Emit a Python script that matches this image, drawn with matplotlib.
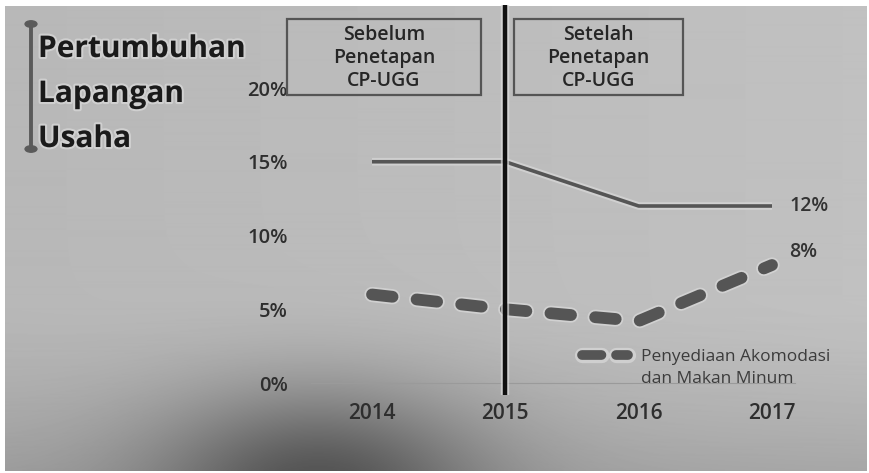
import numpy as np
import matplotlib
matplotlib.use('Agg')
import matplotlib.pyplot as plt
from matplotlib.patches import Rectangle, Circle
from matplotlib.lines import Line2D
import matplotlib.patheffects as pe

# ---- data ----
years = [2014, 2015, 2016, 2017]
total_growth = [15.0, 15.0, 12.0, 12.0]
akomodasi = [6.0, 5.0, 4.2, 8.0]
yticks = [0, 5, 10, 15, 20]
ytick_labels = ['0%', '5%', '10%', '15%', '20%']
end_labels = ['12%', '8%']
title_lines = ['Pertumbuhan', 'Lapangan', 'Usaha']
box_left = 'Sebelum\nPenetapan\nCP-UGG'
box_right = 'Setelah\nPenetapan\nCP-UGG'
legend_label = 'Penyediaan Akomodasi\ndan Makan Minum'

W, H = 870, 473
fig = plt.figure(figsize=(W / 100, H / 100), dpi=100, facecolor='white')

def fx(px):
    return px / W

def fy(py):
    return 1 - py / H

# ---- photographed-slide background ----
bx0, bx1, by0, by1 = 5, 867, 6, 471
bg_ax = fig.add_axes([fx(bx0), fy(by1), fx(bx1) - fx(bx0), fy(by0) - fy(by1)])
gh, gw = by1 - by0, bx1 - bx0
yy, xx = np.mgrid[0:gh, 0:gw]
xx = xx + bx0
yy = yy + by0
img = 0.72 + 0.035 * xx / W
img -= 0.10 * np.clip((yy - 300) / 170, 0, 1) ** 1.5
img -= 0.30 * np.exp(-((xx - 320) / 165) ** 2 - ((yy - 480) / 95) ** 2)
bg_ax.imshow(img, cmap='gray', vmin=0, vmax=1, aspect='auto',
             extent=[0, 1, 0, 1], origin='upper', interpolation='bilinear')
bg_ax.axis('off')

# ---- main axes ----
px_per_year = 400 / 3
px_per_pct = 14.75
ax_l, ax_r, ax_t, ax_b = 300, 850, 5, 395
ax = fig.add_axes([fx(ax_l), fy(ax_b), fx(ax_r) - fx(ax_l), fy(ax_t) - fy(ax_b)])
ax.patch.set_alpha(0)
ax.set_xlim(2014 + (ax_l - 372) / px_per_year, 2014 + (ax_r - 372) / px_per_year)
ax.set_ylim((383 - ax_b) / px_per_pct, (383 - ax_t) / px_per_pct)
for s in ax.spines.values():
    s.set_visible(False)

tick_font = dict(family='Open Sans', weight='semibold', color='#2e2e2e')
ax.set_yticks(yticks)
ax.set_yticklabels(ytick_labels, fontsize=14.5, **tick_font)
ax.set_xticks(years)
ax.set_xticklabels([str(y) for y in years], fontsize=15, **tick_font)
ax.tick_params(axis='y', length=0, pad=9)
ax.tick_params(axis='x', length=0, pad=6)

halo = [pe.Stroke(linewidth=5.5, foreground='#d8d8d8', alpha=0.7), pe.Normal()]
halo_thick = [pe.Stroke(linewidth=11, foreground='#dadada', alpha=0.7), pe.Normal()]

# faint baseline
ax.axhline(0, color='#9a9a9a', lw=0.8, xmin=0.02, xmax=0.9, zorder=1)

# solid line (overall growth)
ax.plot(years, total_growth, color='#555555', lw=2.6, solid_capstyle='butt',
        path_effects=halo, zorder=3)

# dashed line (accommodation & food)
dashed = ax.plot(years, akomodasi, color='#555555', lw=8.5,
                 dash_capstyle='round', dash_joinstyle='round',
                 path_effects=halo_thick, zorder=3)[0]
dashed.set_dashes([1.75, 2.05])

# divider at 2015
ax.axvline(2015, ymin=0, ymax=1, color='#111111', lw=3.2,
           path_effects=[pe.Stroke(linewidth=6, foreground='#dddddd', alpha=0.7), pe.Normal()],
           zorder=4)

# end labels
lab_font = dict(family='Open Sans', weight='semibold', color='#333333', fontsize=14)
ax.text(years[-1] + 0.13, total_growth[-1], end_labels[0], ha='left', va='center', **lab_font)
ax.text(years[-1] + 0.13, akomodasi[-1] + 0.85, end_labels[1], ha='left', va='center', **lab_font)

# legend
ax_leg_y = (383 - 355) / px_per_pct
lx0 = 2014 + (582 - 372) / px_per_year
lx1 = 2014 + (628 - 372) / px_per_year
leg_line = Line2D([lx0, lx1], [ax_leg_y, ax_leg_y], color='#555555', lw=7,
                  dash_capstyle='round', path_effects=halo_thick, zorder=3)
leg_line.set_dashes([2.0, 1.5])
ax.add_line(leg_line)
ax.text(2014 + (641 - 372) / px_per_year, (383 - 368) / px_per_pct, legend_label,
        ha='left', va='center', fontsize=12.5, family='Open Sans', color='#3c3c3c',
        linespacing=1.45)

# ---- header boxes ----
def header_box(x0, x1, y0, y1, text):
    r = Rectangle((fx(x0), fy(y1)), fx(x1) - fx(x0), fy(y0) - fy(y1),
                  transform=fig.transFigure, fill=False, edgecolor='#555555', lw=1.6)
    fig.add_artist(r)
    fig.text(fx((x0 + x1) / 2), fy(58), text, ha='center', va='center',
             fontsize=14, family='Open Sans', weight='semibold', color='#262626',
             linespacing=1.22)

header_box(287, 481, 19, 95, box_left)
header_box(514, 683, 19, 95, box_right)

# ---- title with bracket ----
fig.add_artist(Line2D([fx(31), fx(31)], [fy(24), fy(149)], transform=fig.transFigure,
                      color='#5a5a5a', lw=2.8))
for cy in (24, 149):
    fig.add_artist(Circle((fx(31), fy(cy)), 0.0068, transform=fig.transFigure,
                          color='#5a5a5a'))
for i, t in enumerate(title_lines):
    fig.text(fx(38), fy(49 + 45 * i), t, ha='left', va='center', fontsize=21.5,
             family='Open Sans', weight='bold', color='#1a1a1a',
             path_effects=[pe.Stroke(linewidth=3, foreground='#e0e0e0', alpha=0.6), pe.Normal()])

fig.savefig('out.png', dpi=100, facecolor='white')
